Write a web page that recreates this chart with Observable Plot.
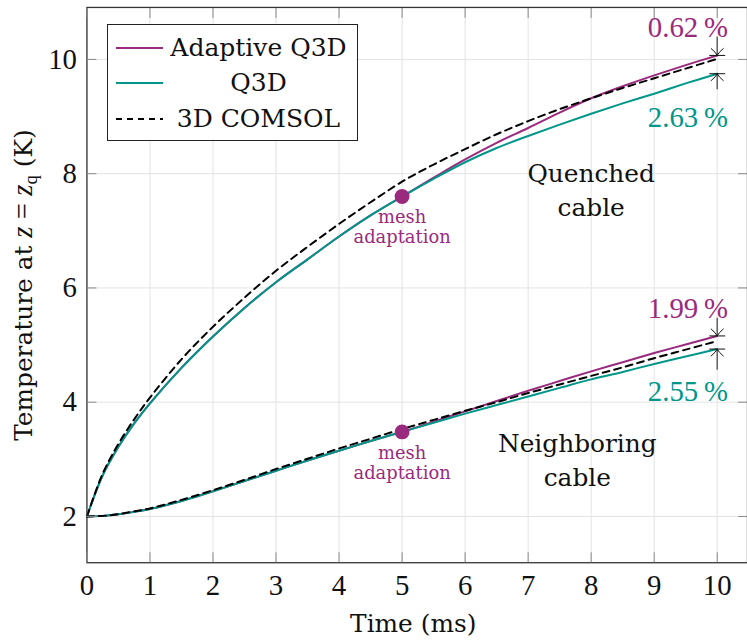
<!DOCTYPE html>
<html><head><meta charset="utf-8">
<script src="https://cdn.jsdelivr.net/npm/d3@7"></script>
<script src="https://cdn.jsdelivr.net/npm/@observablehq/plot@0.6"></script>
<style>
html,body{margin:0;padding:0;background:#fff;overflow:hidden;width:747px;height:644px}
#wrap{position:relative;width:747px;height:644px;overflow:hidden}
.legend{position:absolute;left:107px;top:24px;width:249px;height:115px;border:1.3px solid #222;background:#fff;font-family:'DejaVu Serif',serif;font-size:25px;color:#111}
.row{position:absolute;left:0;width:249px;height:30px}
.row svg{position:absolute;left:8px;top:0}
.row span{position:absolute;left:52px;right:0;text-align:center;top:0;line-height:30px}
</style>
</head><body><div id="wrap"></div>
<script>
// ---- data ----
const time = [0, 0.25, 0.5, 0.75, 1, 1.5, 2, 2.5, 3, 3.5, 4, 4.5, 5, 5.5, 6, 6.5, 7, 7.5, 8, 8.5, 9, 9.5, 10];
const quenchedAdaptive = [2.0, 2.72, 3.22, 3.63, 3.98, 4.6, 5.15, 5.65, 6.1, 6.5, 6.9, 7.27, 7.6, 7.93, 8.25, 8.54, 8.8, 9.07, 9.32, 9.53, 9.72, 9.9, 10.07];
const quenchedQ3D      = [2.0, 2.72, 3.22, 3.63, 3.98, 4.6, 5.15, 5.65, 6.1, 6.5, 6.9, 7.27, 7.6, 7.91, 8.2, 8.45, 8.66, 8.86, 9.05, 9.23, 9.4, 9.58, 9.75];
const quenchedCOMSOL   = [2.0, 2.75, 3.27, 3.7, 4.08, 4.75, 5.32, 5.83, 6.3, 6.72, 7.12, 7.5, 7.86, 8.16, 8.43, 8.69, 8.92, 9.13, 9.32, 9.5, 9.67, 9.84, 10.01];
const neighborAdaptive = [2.0, 2.01, 2.04, 2.08, 2.13, 2.27, 2.44, 2.62, 2.8, 2.98, 3.15, 3.32, 3.48, 3.66, 3.84, 4.02, 4.2, 4.37, 4.54, 4.7, 4.86, 5.01, 5.16];
const neighborQ3D      = [2.0, 2.01, 2.04, 2.08, 2.13, 2.27, 2.44, 2.62, 2.8, 2.98, 3.15, 3.32, 3.48, 3.64, 3.8, 3.95, 4.1, 4.25, 4.4, 4.53, 4.67, 4.8, 4.93];
const neighborCOMSOL   = [2.0, 2.01, 2.04, 2.09, 2.14, 2.29, 2.46, 2.64, 2.83, 3.01, 3.19, 3.36, 3.53, 3.69, 3.85, 4.0, 4.16, 4.31, 4.46, 4.61, 4.77, 4.92, 5.07];
const seriesNames = ["Adaptive Q3D", "Q3D", "3D COMSOL"];
const xTicks = [0, 1, 2, 3, 4, 5, 6, 7, 8, 9, 10];
const yTicks = [2, 4, 6, 8, 10];
const adaptationTime = 5;
const errorLabels = ["0.62\u2009%", "2.63\u2009%", "1.99\u2009%", "2.55\u2009%"];
const errorLabelY = [10.56, 8.98, 5.64, 4.18];
const errorLineEnds = [10.39, 9.47, 5.47, 4.56];
const cableLabels = ["Quenched\ncable", "Neighboring\ncable"];
const cableLabelX = [8.0, 7.78];
const cableLabelY = [7.74, 3.02];
const meshLabelY = [7.07, 2.94];

// ---- styling ----
const purple = "#9a2a7e", teal = "#00968a";
const colorOf = {"Adaptive Q3D": purple, "Q3D": teal, "3D COMSOL": "#000"};
const serif = "'Liberation Serif', 'Times New Roman', serif", text = "'DejaVu Serif', serif";

const toRows = (ys, series, cable) => time.map((t, i) => ({t, v: ys[i], series, cable}));
const lines = [
  ...toRows(quenchedAdaptive, "Adaptive Q3D", "q"), ...toRows(neighborAdaptive, "Adaptive Q3D", "n"),
  ...toRows(quenchedQ3D, "Q3D", "q"), ...toRows(neighborQ3D, "Q3D", "n")
];
const dashed = [...toRows(quenchedCOMSOL, "3D COMSOL", "q"), ...toRows(neighborCOMSOL, "3D COMSOL", "n")];
const iAdapt = time.indexOf(adaptationTime);
const adaptPts = [{x: adaptationTime, y: quenchedAdaptive[iAdapt]}, {x: adaptationTime, y: neighborAdaptive[iAdapt]}];
const last = time.length - 1, tEnd = time[last];
const ends = [
  {y: quenchedAdaptive[last], other: errorLineEnds[0], dir: "down"},
  {y: quenchedQ3D[last], other: errorLineEnds[1], dir: "up"},
  {y: neighborAdaptive[last], other: errorLineEnds[2], dir: "down"},
  {y: neighborQ3D[last], other: errorLineEnds[3], dir: "up"}
];
const pctRows = errorLabels.map((s, i) => ({s, y: errorLabelY[i], c: i % 2 === 0 ? purple : teal}));
const cableRows = cableLabels.map((s, i) => ({s, x: cableLabelX[i], y: cableLabelY[i]}));
const meshRows = meshLabelY.map(y => ({x: adaptationTime, y}));

const arrowFromAbove = {draw(ctx, size) { const r = Math.sqrt(size / Math.PI);
  ctx.moveTo(-r, 0); ctx.lineTo(r, 0);
  ctx.moveTo(-0.8 * r, -0.9 * r); ctx.quadraticCurveTo(-0.15 * r, -0.35 * r, 0, 0);
  ctx.quadraticCurveTo(0.15 * r, -0.35 * r, 0.8 * r, -0.9 * r); }};
const arrowFromBelow = {draw(ctx, size) { const r = Math.sqrt(size / Math.PI);
  ctx.moveTo(-r, 0); ctx.lineTo(r, 0);
  ctx.moveTo(-0.8 * r, 0.9 * r); ctx.quadraticCurveTo(-0.15 * r, 0.35 * r, 0, 0);
  ctx.quadraticCurveTo(0.15 * r, 0.35 * r, 0.8 * r, 0.9 * r); }};

const plot = Plot.plot({
  width: 752, height: 644,
  marginLeft: 87, marginRight: 0, marginTop: 7, marginBottom: 78,
  x: {domain: [0, 10.48]},
  y: {domain: [1.19, 10.91]},
  style: {fontFamily: serif, fontSize: "29px", background: "white", color: "#111"},
  marks: [
    Plot.gridX(xTicks, {stroke: "#e3e3e3", strokeOpacity: 1, strokeWidth: 1}),
    Plot.gridY(yTicks, {stroke: "#e3e3e3", strokeOpacity: 1, strokeWidth: 1}),
    Plot.line(lines, {x: "t", y: "v", z: d => d.series + d.cable, stroke: d => colorOf[d.series], strokeWidth: 2, curve: "catmull-rom"}),
    Plot.line(dashed, {x: "t", y: "v", z: "cable", stroke: "#000", strokeWidth: 2, strokeDasharray: "7,5", curve: "catmull-rom"}),
    Plot.dot(adaptPts, {x: "x", y: "y", r: 7.5, fill: purple, stroke: "none"}),
    Plot.text(meshRows, {x: "x", y: "y", text: () => "mesh\nadaptation", fill: purple, fontFamily: text, fontSize: 18, lineHeight: 1.1}),
    Plot.text(cableRows, {x: "x", y: "y", text: "s", fill: "#111", fontFamily: text, fontSize: 25, lineHeight: 1.36}),
    Plot.text(pctRows, {x: () => 10.17, y: "y", text: "s", fill: "c", textAnchor: "end", fontFamily: serif, fontSize: 29}),
    Plot.ruleX(ends, {x: () => tEnd, y1: "y", y2: "other", stroke: "#666", strokeWidth: 1.6}),
    Plot.dot(ends.filter(d => d.dir === "down"), {x: () => tEnd, y: "y", r: 8, symbol: arrowFromAbove, stroke: "#111", fill: "none", strokeWidth: 1}),
    Plot.dot(ends.filter(d => d.dir === "up"), {x: () => tEnd, y: "y", r: 8, symbol: arrowFromBelow, stroke: "#111", fill: "none", strokeWidth: 1}),
    Plot.frame({stroke: "#333", strokeWidth: 1.3}),
    Plot.axisX(xTicks, {anchor: "bottom", tickSize: -10, tickFormat: () => "", stroke: "#888", label: null}),
    Plot.axisX(xTicks, {anchor: "top", tickSize: -10, tickFormat: () => "", stroke: "#888", label: null}),
    Plot.axisY(yTicks, {anchor: "left", tickSize: -10, tickFormat: () => "", stroke: "#888", label: null}),
    Plot.axisY(yTicks, {anchor: "right", tickSize: -10, tickFormat: () => "", stroke: "#888", label: null}),
    Plot.axisX(xTicks, {anchor: "bottom", tickSize: 0, tickPadding: 12, tickFormat: d => String(d), fontSize: 29, fontFamily: serif, fill: "#111", label: null}),
    Plot.axisY(yTicks, {anchor: "left", tickSize: 0, tickPadding: 10, tickFormat: d => String(d), fontSize: 29, fontFamily: serif, fill: "#111", label: null})
  ]
});

const wrap = document.getElementById("wrap");
wrap.appendChild(plot);
const svg = d3.select(plot);
// axis titles
svg.append("text").attr("x", 416).attr("y", 636).attr("text-anchor", "middle")
  .style("font-family", text).style("font-size", "25px").attr("fill", "#111").text("Time (ms)");
const yl = svg.append("text").attr("transform", "translate(32,287) rotate(-90)").attr("text-anchor", "middle")
  .style("font-family", text).style("font-size", "25px").attr("fill", "#111");
yl.append("tspan").text("Temperature at ");
yl.append("tspan").style("font-family", serif).style("font-style", "italic").style("font-size", "29px").text("z");
yl.append("tspan").style("font-family", serif).style("font-size", "29px").text(" = ");
yl.append("tspan").style("font-family", serif).style("font-style", "italic").style("font-size", "29px").text("z");
yl.append("tspan").style("font-family", serif).style("font-size", "19px").attr("dy", 5).text("q");
yl.append("tspan").attr("dy", -5).text(" (K)");

// legend
const legend = document.createElement("div");
legend.className = "legend";
const rowTops = [8, 43, 79];
seriesNames.forEach((name, i) => {
  const row = document.createElement("div");
  row.className = "row";
  row.style.top = rowTops[i] + "px";
  const dash = name === "3D COMSOL" ? 'stroke-dasharray="6,5"' : "";
  row.innerHTML = `<svg width="48" height="30"><line x1="0" x2="47" y1="15" y2="15" stroke="${colorOf[name]}" stroke-width="2" ${dash}/></svg><span>${name}</span>`;
  legend.appendChild(row);
});
wrap.appendChild(legend);
</script>
</body></html>
